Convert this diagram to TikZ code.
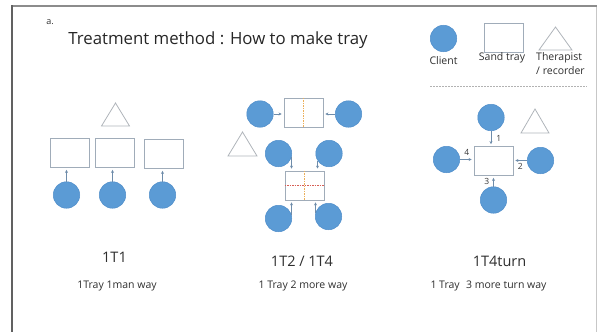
\documentclass[tikz,border=0pt]{standalone}
\usepackage{fontspec}
\setmainfont{Open Sans}
\usetikzlibrary{arrows.meta, positioning}
\definecolor{clientBlue}{RGB}{91,155,213}
\definecolor{clientEdge}{RGB}{80,142,202}
\definecolor{trayEdge}{RGB}{160,172,185}
\definecolor{triEdge}{RGB}{175,180,186}
\definecolor{arrowCol}{RGB}{110,140,170}
\definecolor{splitOrange}{RGB}{235,175,90}
\definecolor{splitRed}{RGB}{215,95,85}

\begin{document}
\begin{tikzpicture}[x=1pt, y=-1pt,
    >={Stealth[length=3pt, width=3pt]},
    client/.style={circle, fill=clientBlue, draw=clientEdge, line width=0.5pt,
      minimum size=26.5pt, inner sep=0pt},
    tray/.style={rectangle, draw=trayEdge, line width=0.8pt, fill=white,
      minimum width=39pt, minimum height=29pt, inner sep=0pt},
    therapist/.style={draw=triEdge, line width=0.8pt},
    arrow/.style={->, draw=arrowCol, line width=0.6pt, shorten >=2pt},
    split/.style={dash pattern=on 1.5pt off 1pt, line width=0.6pt},
    caption/.style={font=\fontsize{14.5}{17}\selectfont, text=black!82},
    subcap/.style={font=\fontsize{10.5}{12}\selectfont, text=black!82},
    legendtxt/.style={font=\fontsize{10.5}{14}\selectfont, text=black!82, inner sep=1pt},
    num/.style={font=\fontsize{8.5}{9}\selectfont, text=black!78, inner sep=2pt}]
  \useasboundingbox (0,0) rectangle (600,332);
  % page frame
  \draw[black!22, line width=0.8pt] (596,6) -- (596,332);
  \draw[black!45, line width=1.5pt] (12,6) -- (597,6);
  \draw[black!62, line width=2pt] (12,5.3) -- (12,332);

  % heading
  \node[font=\fontsize{9}{10}\selectfont, text=black!80] (tag) at (50,22) {a.};
  \node[font=\fontsize{16.8}{20}\selectfont, text=black!85] (title) at (218,40) {Treatment method : How to make tray};

  % legend
  \node[client] (lc) at (443.5,38.5) {};
  \node[tray] (lt) at (503.5,37.5) {};
  \draw[therapist] (555.5,27) -- ++(16.5,23) -- ++(-33,0) -- cycle;
  \node[legendtxt, below=3pt of lc] (lcl) {Client};
  \node[legendtxt] (ltl) at (502,58) {Sand tray};
  \node[legendtxt, anchor=north west, align=left] (lrl) at (535,51) {Therapist\\/ recorder};
  \draw[black!30, dash pattern=on 1.5pt off 1.5pt, line width=0.5pt] (430,86) -- (587,86);

  % 1T1
  \draw[therapist] (115.5,103) -- ++(14,23) -- ++(-28,0) -- cycle;
  \node[tray] (a1) at (70,153) {};
  \node[tray] (a2) at (114.5,153) {};
  \node[tray] (a3) at (163.5,154) {};
  \node[client] (p1) at (66.5,195) {};
  \node[client] (p2) at (112.5,195) {};
  \node[client] (p3) at (162.5,195) {};
  \draw[arrow] (p1.north) -- (p1.north |- a1.south);
  \draw[arrow] (p2.north) -- (p2.north |- a2.south);
  \draw[arrow] (p3.north) -- (p3.north |- a3.south);

  % 1T2 / 1T4
  \node[tray] (b1) at (303.5,112.5) {};
  \draw[split, splitOrange] (b1.north) -- (b1.south);
  \node[client] (q1) at (260,114) {};
  \node[client] (q2) at (348.5,114) {};
  \draw[arrow] (q1.east) -- (q1.east -| b1.west);
  \draw[arrow] (q2.west) -- (q2.west -| b1.east);
  \draw[therapist] (242.5,132) -- ++(14.5,24) -- ++(-29,0) -- cycle;
  \node[tray] (b2) at (304.5,185.5) {};
  \draw[split, splitOrange] (b2.north) -- (b2.south);
  \draw[split, splitRed] (b2.west) -- (b2.east);
  \node[client] (q3) at (278.5,153.5) {};
  \node[client] (q4) at (329,153.5) {};
  \node[client] (q5) at (278.5,218.5) {};
  \node[client] (q6) at (328.5,216.5) {};
  \draw[arrow] (q3.-15) -- (q3.-15 |- b2.north);
  \draw[arrow] (q4.-148) -- (q4.-148 |- b2.north);
  \draw[arrow] (q5.15) -- (q5.15 |- b2.south);
  \draw[arrow] (q6.164) -- (q6.164 |- b2.south);

  % 1T4turn
  \node[tray] (c1) at (493.5,161) {};
  \node[client] (s1) at (491,117.5) {};
  \node[client] (s2) at (540.5,160.5) {};
  \node[client] (s3) at (493.5,200) {};
  \node[client] (s4) at (446.5,159.5) {};
  \draw[therapist] (535,109) -- ++(14,24) -- ++(-28,0) -- cycle;
  \draw[arrow] (s1.south) -- (s1.south |- c1.north) node[num, midway, right, xshift=3pt] {1};
  \draw[arrow] (s2.west) -- (s2.west -| c1.east) node[num, midway, below, yshift=-1pt] {2};
  \draw[arrow] (s3.north) -- (s3.north |- c1.south) node[num, midway, left, xshift=-2pt] {3};
  \draw[arrow] (s4.east) -- (s4.east -| c1.west) node[num, midway, above, yshift=2pt] {4};

  % captions
  \node[caption] (t1) at (114.5,257) {1T1};
  \node[caption] (t2) at (302,261) {1T2 / 1T4};
  \node[caption] (t3) at (499.5,261) {1T4turn};
  \node[subcap] (d1) at (117,286) {1Tray 1man way};
  \node[subcap] (d2) at (303,286) {1 Tray 2 more way};
  \node[subcap] (d3) at (488.5,286) {1 Tray\hspace{0.6em}3 more turn way};
\end{tikzpicture}
\end{document}
